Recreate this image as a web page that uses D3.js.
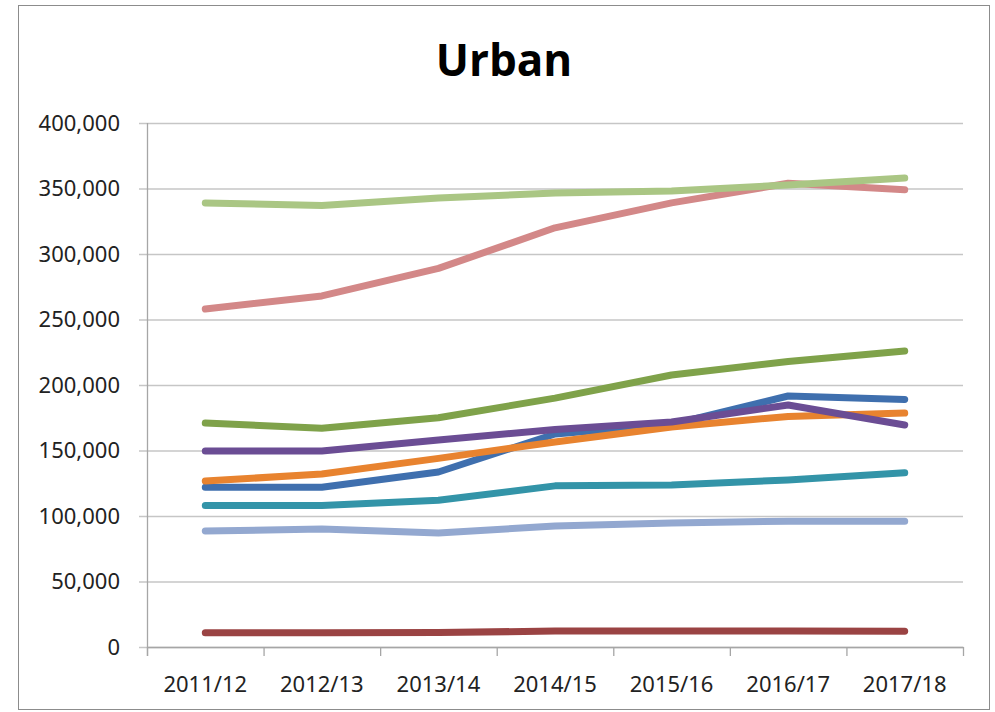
<!DOCTYPE html>
<html>
<head>
<meta charset="utf-8">
<script src="https://cdn.jsdelivr.net/npm/d3@7"></script>
<style>
  body { margin: 0; background: #fff; }
  svg { display: block; }
</style>
</head>
<body>
<div id="chart"></div>
<script>
const width = 995;
const height = 712;
const margin = { top: 123, right: 32, bottom: 65, left: 147 };

const years = ["2011/12", "2012/13", "2013/14", "2014/15", "2015/16", "2016/17", "2017/18"];
const yTicks = [0, 50000, 100000, 150000, 200000, 250000, 300000, 350000, 400000];

// one array per line
const darkRed = [10800, 10800, 11000, 12200, 12200, 12200, 12000];
const lightBlue = [88500, 90000, 87000, 92400, 94700, 96000, 96000];
const teal = [108000, 108000, 112000, 123000, 123700, 127500, 133000];
const blue = [122000, 122000, 133600, 162600, 170000, 191600, 189000];
const orange = [126700, 132000, 144000, 156500, 168000, 176000, 178600];
const purple = [149600, 149600, 158000, 166000, 171800, 184700, 169500];
const green = [171000, 167000, 175000, 190000, 207600, 218000, 226000];
const pink = [258000, 268000, 289000, 320000, 339000, 354000, 349000];
const lightGreen = [338900, 337000, 342700, 346600, 348000, 352700, 358000];

const series = [
  { values: darkRed, color: "#9a4343" },
  { values: lightBlue, color: "#93a8d0" },
  { values: teal, color: "#3394a8" },
  { values: blue, color: "#3f6fae" },
  { values: orange, color: "#e8832f" },
  { values: purple, color: "#6b4d94" },
  { values: green, color: "#7fa24a" },
  { values: pink, color: "#d38888" },
  { values: lightGreen, color: "#aac684" },
];

const svg = d3
  .select("#chart")
  .append("svg")
  .attr("width", width)
  .attr("height", height);

// chart frame
svg
  .append("rect")
  .attr("x", 18.5)
  .attr("y", 5.5)
  .attr("width", 971)
  .attr("height", 704)
  .attr("fill", "#fff")
  .attr("stroke", "#8c8c8c");

svg
  .append("text")
  .attr("x", 504)
  .attr("y", 76)
  .attr("text-anchor", "middle")
  .attr("font-family", "'Open Sans', sans-serif")
  .attr("font-weight", 700)
  .attr("font-size", 44)
  .attr("fill", "#000")
  .text("Urban");

const x = d3
  .scaleBand()
  .domain(years)
  .range([margin.left, width - margin.right]);

const y = d3
  .scaleLinear()
  .domain([0, 400000])
  .range([height - margin.bottom, margin.top]);

const fmt = d3.format(",");

// horizontal gridlines with outward ticks
const yAxis = svg
  .append("g")
  .attr("transform", `translate(${margin.left}, 0)`)
  .call(
    d3
      .axisLeft(y)
      .tickValues(yTicks)
      .tickFormat(fmt)
      .tickSizeInner(-(width - margin.right - margin.left))
      .tickSizeOuter(0)
      .tickPadding(27),
  );

yAxis.select(".domain").remove();
yAxis
  .selectAll(".tick line")
  .attr("x1", -8)
  .attr("stroke", "#c6c6c6")
  .attr("stroke-width", 1.3);
yAxis
  .selectAll(".tick text")
  .attr("font-family", "'Noto Sans', sans-serif")
  .attr("font-size", 22)
  .attr("fill", "#222");

// vertical axis line
svg
  .append("line")
  .attr("x1", margin.left + 0.5)
  .attr("x2", margin.left + 0.5)
  .attr("y1", margin.top)
  .attr("y2", height - margin.bottom + 9)
  .attr("stroke", "#a6a6a6")
  .attr("stroke-width", 1.3);

// category axis
const xAxis = svg
  .append("g")
  .attr("transform", `translate(0, ${height - margin.bottom})`)
  .call(d3.axisBottom(x).tickSize(0).tickPadding(29));

xAxis.select(".domain").attr("stroke", "#a6a6a6").attr("stroke-width", 1.3);
xAxis
  .selectAll(".tick text")
  .attr("font-family", "'Noto Sans', sans-serif")
  .attr("font-size", 22)
  .attr("fill", "#222");

// tick marks between categories
const boundaries = years.map((d) => x(d)).concat([width - margin.right]);
svg
  .append("g")
  .selectAll("line")
  .data(boundaries)
  .join("line")
  .attr("x1", (d) => d + 0.5)
  .attr("x2", (d) => d + 0.5)
  .attr("y1", height - margin.bottom)
  .attr("y2", height - margin.bottom + 9)
  .attr("stroke", "#a6a6a6")
  .attr("stroke-width", 1.3);

const line = d3
  .line()
  .x((d, i) => x(years[i]) + x.bandwidth() / 2)
  .y((d) => y(d));

svg
  .append("g")
  .selectAll("path")
  .data(series)
  .join("path")
  .attr("d", (d) => line(d.values))
  .attr("fill", "none")
  .attr("stroke", (d) => d.color)
  .attr("stroke-width", 7)
  .attr("stroke-linecap", "round")
  .attr("stroke-linejoin", "round");
</script>
</body>
</html>
